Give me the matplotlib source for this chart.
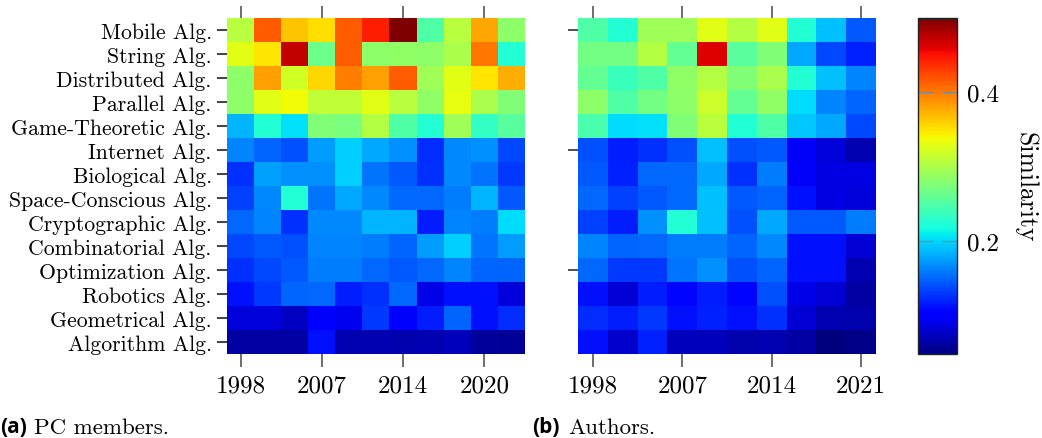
import numpy as np
import matplotlib
matplotlib.use("Agg")
import matplotlib.pyplot as plt

categories = ["Mobile Alg.", "String Alg.", "Distributed Alg.", "Parallel Alg.",
              "Game-Theoretic Alg.", "Internet Alg.", "Biological Alg.",
              "Space-Conscious Alg.", "Cryptographic Alg.", "Combinatorial Alg.",
              "Optimization Alg.", "Robotics Alg.", "Geometrical Alg.", "Algorithm Alg."]

pc_tick_pos = [0, 3, 6, 9]
pc_tick_labels = ["1998", "2007", "2014", "2020"]
au_tick_pos = [0, 3, 6, 9]
au_tick_labels = ["1998", "2007", "2014", "2021"]

pc_members = [
    [0.306, 0.414, 0.365, 0.352, 0.414, 0.444, 0.500, 0.251, 0.306, 0.379, 0.284],
    [0.330, 0.349, 0.472, 0.266, 0.414, 0.284, 0.285, 0.283, 0.300, 0.402, 0.226],
    [0.284, 0.383, 0.320, 0.356, 0.399, 0.383, 0.414, 0.295, 0.330, 0.349, 0.376],
    [0.284, 0.330, 0.338, 0.312, 0.312, 0.330, 0.306, 0.285, 0.334, 0.300, 0.277],
    [0.185, 0.226, 0.205, 0.277, 0.273, 0.305, 0.251, 0.226, 0.295, 0.235, 0.256],
    [0.163, 0.149, 0.140, 0.174, 0.198, 0.180, 0.169, 0.124, 0.166, 0.169, 0.138],
    [0.127, 0.176, 0.169, 0.169, 0.198, 0.156, 0.145, 0.127, 0.166, 0.156, 0.130],
    [0.134, 0.166, 0.225, 0.156, 0.180, 0.166, 0.152, 0.152, 0.160, 0.184, 0.145],
    [0.152, 0.163, 0.127, 0.166, 0.166, 0.184, 0.184, 0.117, 0.163, 0.160, 0.202],
    [0.138, 0.145, 0.140, 0.163, 0.163, 0.160, 0.149, 0.174, 0.198, 0.156, 0.174],
    [0.127, 0.138, 0.145, 0.160, 0.160, 0.152, 0.145, 0.152, 0.163, 0.149, 0.149],
    [0.113, 0.130, 0.149, 0.152, 0.117, 0.127, 0.152, 0.090, 0.113, 0.113, 0.085],
    [0.085, 0.085, 0.075, 0.103, 0.093, 0.130, 0.100, 0.117, 0.149, 0.113, 0.124],
    [0.063, 0.063, 0.063, 0.113, 0.069, 0.069, 0.066, 0.069, 0.072, 0.060, 0.057],
]

authors = [
    [0.251, 0.226, 0.295, 0.295, 0.330, 0.305, 0.330, 0.226, 0.190, 0.145],
    [0.269, 0.269, 0.305, 0.260, 0.462, 0.256, 0.277, 0.180, 0.138, 0.120],
    [0.260, 0.238, 0.251, 0.285, 0.305, 0.277, 0.300, 0.225, 0.190, 0.163],
    [0.283, 0.251, 0.269, 0.283, 0.317, 0.260, 0.285, 0.202, 0.163, 0.149],
    [0.247, 0.202, 0.205, 0.277, 0.308, 0.226, 0.251, 0.194, 0.180, 0.138],
    [0.140, 0.117, 0.127, 0.140, 0.190, 0.140, 0.145, 0.096, 0.085, 0.069],
    [0.145, 0.120, 0.152, 0.152, 0.180, 0.127, 0.160, 0.096, 0.088, 0.088],
    [0.152, 0.134, 0.145, 0.152, 0.190, 0.145, 0.149, 0.113, 0.088, 0.085],
    [0.134, 0.117, 0.169, 0.225, 0.190, 0.140, 0.180, 0.145, 0.145, 0.160],
    [0.163, 0.149, 0.152, 0.160, 0.160, 0.149, 0.166, 0.113, 0.113, 0.082],
    [0.152, 0.130, 0.130, 0.156, 0.169, 0.140, 0.149, 0.113, 0.113, 0.069],
    [0.113, 0.082, 0.117, 0.108, 0.117, 0.108, 0.140, 0.090, 0.082, 0.063],
    [0.124, 0.117, 0.130, 0.113, 0.120, 0.113, 0.127, 0.082, 0.069, 0.066],
    [0.113, 0.079, 0.120, 0.072, 0.072, 0.066, 0.069, 0.063, 0.048, 0.052],
]

vmin, vmax = 0.048, 0.5
serif = "cmr10"
plt.rcParams["axes.formatter.use_mathtext"] = True

W, H = 1042, 439
fig = plt.figure(figsize=(W / 100, H / 100), dpi=100)

def box(x0, y0, x1, y1):
    return [x0 / W, 1 - y1 / H, (x1 - x0) / W, (y1 - y0) / H]

ax1 = fig.add_axes(box(227, 19, 525, 355))
ax2 = fig.add_axes(box(578, 19, 876, 355))
cax = fig.add_axes(box(918, 19, 957, 355))

im1 = ax1.imshow(np.array(pc_members), cmap="jet", vmin=vmin, vmax=vmax,
                 aspect="auto", interpolation="nearest")
im2 = ax2.imshow(np.array(authors), cmap="jet", vmin=vmin, vmax=vmax,
                 aspect="auto", interpolation="nearest")

for ax, pos, labels in [(ax1, pc_tick_pos, pc_tick_labels), (ax2, au_tick_pos, au_tick_labels)]:
    for s in ax.spines.values():
        s.set_visible(False)
    ax.set_xticks(pos)
    ax.set_xticklabels(labels, fontfamily=serif, fontsize=18)
    ax.tick_params(axis="x", top=True, bottom=True, length=9, width=1.2,
                   color="#555555", pad=6)
    for t in ax.xaxis.get_major_ticks():
        t.tick2line.set_color("#888888")

ax1.set_yticks(range(len(categories)))
ax1.set_yticklabels(categories, fontfamily=serif, fontsize=15.7)
ax1.tick_params(axis="y", length=7, width=1.2, color="#222222", pad=4)

ax2.set_yticks([0, 5, 10])
ax2.set_yticklabels([])
ax2.tick_params(axis="y", length=7, width=1.2, color="#333333")

cb = fig.colorbar(im1, cax=cax)
cb.set_ticks([0.2, 0.4])
cb.set_ticklabels(["0.2", "0.4"])
cb.outline.set_linewidth(1.0)
cb.outline.set_edgecolor("#222222")
cax.tick_params(axis="y", direction="in", left=True, right=True, length=11,
                width=1.0, color="#888888", pad=7)
for t in cax.get_yticklabels():
    t.set_fontfamily(serif)
    t.set_fontsize(18)
cax.set_ylabel("Similarity", fontfamily=serif, fontsize=18.5, rotation=270,
               labelpad=28)

fig.text(0 / W, 1 - 428 / H, "(a)", fontfamily="Open Sans", fontweight="bold",
         fontsize=15, va="center", ha="left")
fig.text(34 / W, 1 - 428 / H, "PC members.", fontfamily=serif, fontsize=16.5,
         va="center", ha="left")
fig.text(532 / W, 1 - 428 / H, "(b)", fontfamily="Open Sans", fontweight="bold",
         fontsize=15, va="center", ha="left")
fig.text(568 / W, 1 - 428 / H, "Authors.", fontfamily=serif, fontsize=16.5,
         va="center", ha="left")

fig.savefig("out.png", dpi=100)
